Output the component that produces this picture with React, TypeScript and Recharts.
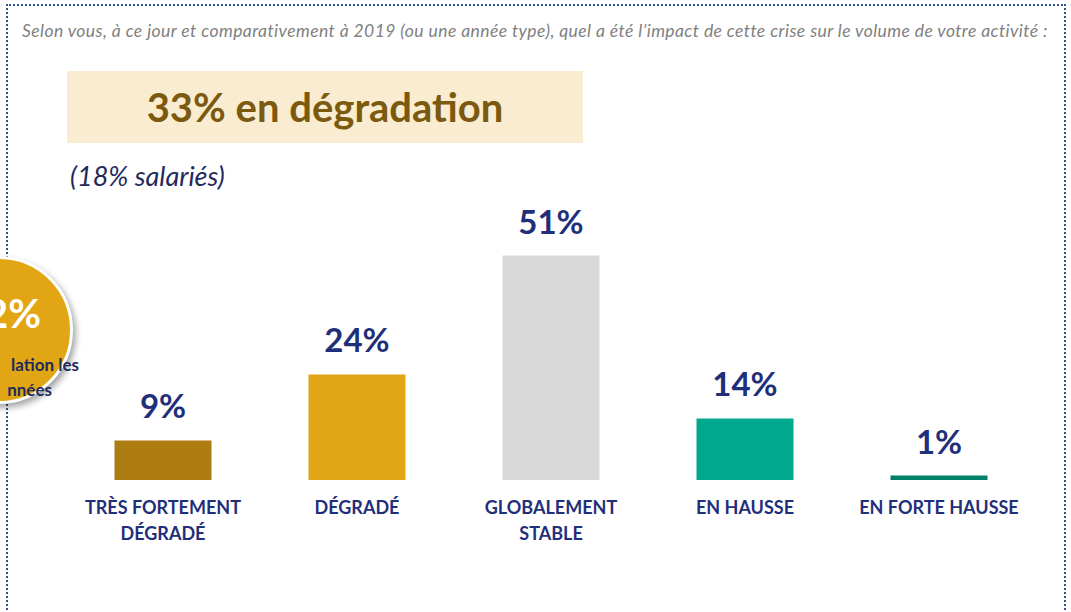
import React from "react";
import { Bar, BarChart, Cell, LabelList, XAxis, YAxis } from "recharts";

const categories = [
  ["TRÈS FORTEMENT", "DÉGRADÉ"],
  ["DÉGRADÉ"],
  ["GLOBALEMENT", "STABLE"],
  ["EN HAUSSE"],
  ["EN FORTE HAUSSE"],
];
const shares = [9, 24, 51, 14, 1];
const barColors = ["#AD7C12", "#E2A614", "#D9D9D9", "#00A88E", "#00806A"];

const data = categories.map((lines, i) => ({ name: lines.join(" "), lines, value: shares[i] }));

const NAVY = "#1F2F7A";
const FONT = "Lato, 'Open Sans', sans-serif";

function CategoryTick(props: any) {
  const { x, y, payload, index } = props;
  const lines = categories[index] ?? [payload.value];
  return (
    <text x={x} y={y} textAnchor="middle" fill={NAVY} fontFamily={FONT} fontWeight={700} fontSize={18}>
      {lines.map((l: string, i: number) => (
        <tspan key={i} x={x} dy={i === 0 ? 26 : 26}>
          {l}
        </tspan>
      ))}
    </text>
  );
}

export default function App() {
  return (
    <div style={{ position: "absolute", left: 0, top: 0, width: 1071, height: 612, overflow: "hidden", background: "#fff", fontFamily: FONT }}>
      {/* dotted frame */}
      <div
        style={{
          position: "absolute",
          left: 6,
          top: 4,
          width: 1056,
          height: 700,
          borderTop: "2px dotted #2F5597",
          borderLeft: "2px dotted #2F5597",
          borderRight: "2px dotted #2F5597",
        }}
      />
      <div style={{ position: "absolute", left: 22, top: 20, fontSize: 17.5, letterSpacing: 0.42, fontStyle: "italic", color: "#808080", whiteSpace: "nowrap" }}>
        Selon vous, à ce jour et comparativement à 2019 (ou une année type), quel a été l’impact de cette crise sur le volume de votre activité :
      </div>

      <div
        style={{
          position: "absolute",
          left: 67,
          top: 71,
          width: 516,
          height: 72,
          background: "#FAECD0",
          color: "#7B5A0F",
          fontSize: 40,
          fontWeight: 700,
          display: "flex",
          alignItems: "center",
          justifyContent: "center",
        }}
      >
        33% en dégradation
      </div>
      <div style={{ position: "absolute", left: 70, top: 159, fontSize: 27, fontStyle: "italic", color: "#1F2A5C" }}>(18% salariés)</div>

      <BarChart
        width={1071}
        height={612}
        data={data}
        margin={{ top: 216, right: 35, bottom: 0, left: 66 }}
        barCategoryGap="25%"
        style={{ position: "absolute", left: 0, top: 0 }}
      >
        <XAxis dataKey="name" axisLine={false} tickLine={false} interval={0} tick={<CategoryTick />} height={132} />
        <YAxis hide domain={[0, 60]} width={0} />
        <Bar dataKey="value" isAnimationActive={false}>
          {data.map((d, i) => (
            <Cell key={d.name} fill={barColors[i]} />
          ))}
          <LabelList
            dataKey="value"
            position="top"
            offset={22}
            formatter={(v: any) => `${v}%`}
            style={{ fill: NAVY, fontFamily: FONT, fontWeight: 700, fontSize: 33 }}
          />
        </Bar>
      </BarChart>

      {/* partial circle callout on the left edge */}
      <div
        style={{
          position: "absolute",
          left: -75,
          top: 256,
          width: 142,
          height: 142,
          borderRadius: "50%",
          background: "#E2A614",
          border: "3px solid #fff",
          boxShadow: "3px 4px 6px rgba(0,0,0,0.35)",
        }}
      />
      <div style={{ position: "absolute", right: 1071 - 41, top: 289, color: "#fff", fontSize: 40, fontWeight: 700, whiteSpace: "nowrap" }}>2%</div>
      <div style={{ position: "absolute", right: 1071 - 79, top: 352, color: "#1F2A5C", fontSize: 17, fontWeight: 700, lineHeight: "25px", textAlign: "right", whiteSpace: "nowrap" }}>
        lation les
        <br />
        <span style={{ marginRight: 27 }}>nnées</span>
      </div>
    </div>
  );
}
